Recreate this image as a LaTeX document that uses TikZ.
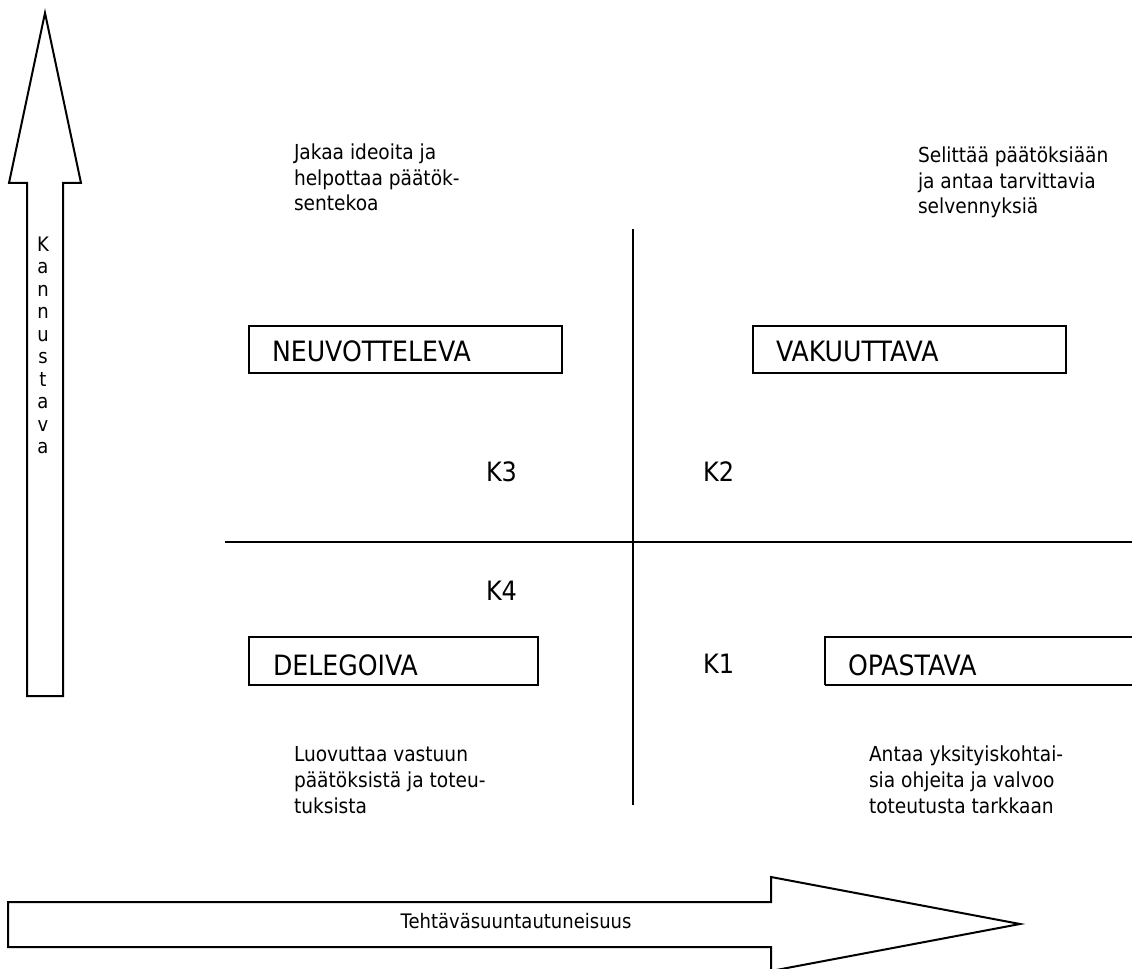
\documentclass[tikz,border=0pt]{standalone}
\usepackage{fontspec}
\setmainfont{DejaVu Sans}[FakeStretch=0.9]
\begin{document}
\begin{tikzpicture}[x=0.75pt,y=-0.75pt,
  line width=1.5pt,
  lbl/.style={inner sep=0pt,anchor=base west,font=\fontsize{15.5}{19.2}\selectfont,align=left},
  boxtext/.style={inner sep=0pt,anchor=base west,font=\fontsize{21}{25}\selectfont},
  quad/.style={inner sep=0pt,anchor=base west,font=\fontsize{20}{24}\selectfont},
  stylebox/.style={draw,line width=1.2pt}]
\useasboundingbox (0,0) rectangle (1132,969);
% vertical arrow
\draw (45,13) -- (81,183) -- (63,183) -- (63,696) -- (27,696) -- (27,183) -- (9,183) -- cycle;
\node[inner sep=0pt,anchor=base,align=center,font=\fontsize{15}{16.9}\selectfont] (kan) at (43,454)
  {K\\a\\n\\n\\u\\s\\t\\a\\v\\a};
% horizontal arrow
\draw (8,902) -- (771,902) -- (771,877) -- (1020,924) -- (771,971) -- (771,947) -- (8,947) -- cycle;
\node[inner sep=0pt,anchor=base,font=\fontsize{15}{18}\selectfont] (teh) at (516,928) {Tehtäväsuuntautuneisuus};
% quadrant lines
\coordinate (vt) at (633,229);
\coordinate (vb) at (633,805);
\coordinate (hl) at (225,542);
\coordinate (hr) at (1132,542);
\draw[line width=1.2pt] (vt) -- (vb);
\draw[line width=1.2pt] (hl) -- (hr);
% boxes
\draw[stylebox] (249,326) rectangle (562,373);
\node[boxtext] (neu) at (271,362) {NEUVOTTELEVA};
\draw[stylebox] (753,326) rectangle (1066,373);
\node[boxtext] (vak) at (775,362) {VAKUUTTAVA};
\draw[stylebox] (249,637) rectangle (538,685);
\node[boxtext] (del) at (272,675) {DELEGOIVA};
\draw[stylebox] (825,685) -- (825,637) -- (1140,637);
\draw[stylebox] (825,685) -- (1140,685);
\node[boxtext] (opa) at (847,675) {OPASTAVA};
% quadrant labels
\node[quad] (k3) at (485,482) {K3};
\node[quad] (k2) at (702,482) {K2};
\node[quad] (k4) at (485,600) {K4};
\node[quad] (k1) at (702,673) {K1};
% descriptions (anchor = baseline of last line)
\node[lbl] (d3) at (293,211) {Jakaa ideoita ja\\helpottaa päätök-\\sentekoa};
\node[lbl] (d2) at (917,214) {Selittää päätöksiään\\ja antaa tarvittavia\\selvennyksiä};
\node[lbl] (d4) at (293,813) {Luovuttaa vastuun\\päätöksistä ja toteu-\\tuksista};
\node[lbl] (d1) at (868,813) {Antaa yksityiskohtai-\\sia ohjeita ja valvoo\\toteutusta tarkkaan};
\end{tikzpicture}
\end{document}
